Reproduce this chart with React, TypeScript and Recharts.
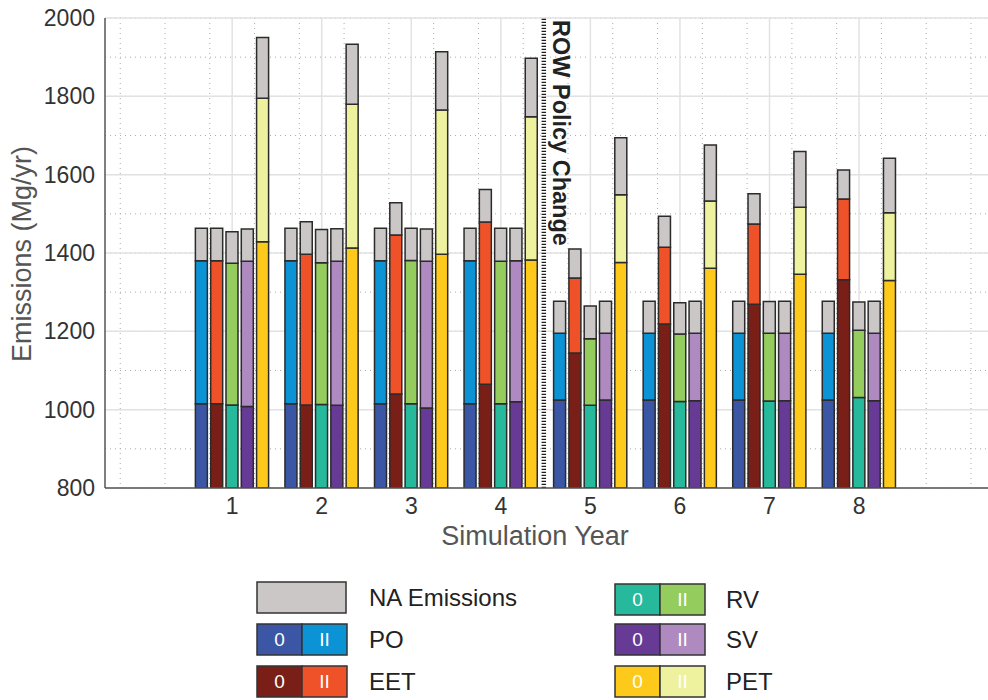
import React from 'react';
import { ComposedChart, Bar, XAxis, YAxis, CartesianGrid, ReferenceLine } from 'recharts';

const FONT = '"Liberation Sans", Arial, Helvetica, sans-serif';

const years = [1, 2, 3, 4, 5, 6, 7, 8];

// stack levels in Mg/yr: top of "0" part, top of "II" part, top incl. NA emissions
const poBase = [1015, 1015, 1015, 1015, 1025, 1025, 1025, 1025];
const poII = [1380, 1380, 1380, 1380, 1195, 1195, 1195, 1195];
const poTotal = [1463, 1463, 1463, 1463, 1277, 1277, 1277, 1277];

const eetBase = [1015, 1012, 1040, 1065, 1145, 1219, 1269, 1332];
const eetII = [1380, 1397, 1446, 1479, 1336, 1415, 1474, 1538];
const eetTotal = [1463, 1480, 1528, 1562, 1410, 1494, 1551, 1612];

const rvBase = [1012, 1013, 1015, 1015, 1011, 1021, 1022, 1031];
const rvII = [1374, 1375, 1381, 1379, 1181, 1193, 1195, 1203];
const rvTotal = [1454, 1460, 1463, 1463, 1265, 1273, 1276, 1275];

const svBase = [1008, 1011, 1004, 1020, 1025, 1023, 1023, 1023];
const svII = [1379, 1379, 1379, 1380, 1195, 1195, 1195, 1195];
const svTotal = [1461, 1462, 1461, 1463, 1277, 1277, 1277, 1277];

const petBase = [1429, 1413, 1397, 1382, 1376, 1361, 1346, 1330];
const petII = [1795, 1780, 1765, 1748, 1549, 1533, 1517, 1503];
const petTotal = [1950, 1933, 1914, 1897, 1694, 1676, 1659, 1642];

const yTicks = [800, 1000, 1200, 1400, 1600, 1800, 2000];
const policyYear = 4.48;

const NA_COLOR = '#cbc7c7';

const scenarios = [
  { key: 'PO', base: poBase, ii: poII, total: poTotal, dark: '#3a56a5', light: '#0b93d5' },
  { key: 'EET', base: eetBase, ii: eetII, total: eetTotal, dark: '#7a1f17', light: '#ef5228' },
  { key: 'RV', base: rvBase, ii: rvII, total: rvTotal, dark: '#27b99b', light: '#95cc5e' },
  { key: 'SV', base: svBase, ii: svII, total: svTotal, dark: '#673a96', light: '#ae8ac0' },
  { key: 'PET', base: petBase, ii: petII, total: petTotal, dark: '#fdca1b', light: '#eef19d' },
];

const data = years.map((year, i) => {
  const row: any = { year };
  scenarios.forEach((s) => {
    row[`${s.key}_0`] = s.base[i];
    row[`${s.key}_II`] = s.ii[i] - s.base[i];
    row[`${s.key}_NA`] = s.total[i] - s.ii[i];
  });
  return row;
});

// grid positions
const minorY: number[] = [];
for (let v = 800; v <= 2000; v += 50) minorY.push(v);
const minorX: number[] = [];
for (let v = -0.25; v <= 9.3; v += 0.25) minorX.push(v);

const YTitle = () => (
  <text
    x={31}
    y={254}
    transform="rotate(-90 31 254)"
    textAnchor="middle"
    style={{ fontSize: 27, fill: '#555', fontFamily: FONT }}
  >
    Emissions (Mg/yr)
  </text>
);

const XTitle = () => (
  <text x={535} y={545} textAnchor="middle" style={{ fontSize: 27, fill: '#555', fontFamily: FONT }}>
    Simulation Year
  </text>
);

const PolicyLabel = (props: any) => {
  const x = (props.viewBox?.x ?? 544) + 9;
  const y = 20;
  return (
    <text
      x={x}
      y={y}
      transform={`rotate(90 ${x} ${y})`}
      textAnchor="start"
      style={{ fontSize: 23.5, fontWeight: 'bold', fill: '#222', fontFamily: FONT }}
    >
      ROW Policy Change
    </text>
  );
};

const legendLeft = [
  { label: 'PO', dark: '#3a56a5', light: '#0b93d5', y: 624 },
  { label: 'EET', dark: '#7a1f17', light: '#ef5228', y: 666 },
];
const legendRight = [
  { label: 'RV', dark: '#27b99b', light: '#95cc5e', y: 584 },
  { label: 'SV', dark: '#673a96', light: '#ae8ac0', y: 624 },
  { label: 'PET', dark: '#fdca1b', light: '#eef19d', y: 666 },
];

const SplitBox = ({ x, y, dark, light, label, textX }: any) => (
  <g>
    <rect x={x} y={y} width={45} height={31} fill={dark} stroke="#333" strokeWidth={1.5} />
    <rect x={x + 45} y={y} width={45} height={31} fill={light} stroke="#333" strokeWidth={1.5} />
    <text x={x + 22.5} y={y + 22} textAnchor="middle" style={{ fontSize: 19, fill: '#fff', fontFamily: FONT }}>0</text>
    <text x={x + 67.5} y={y + 22} textAnchor="middle" style={{ fontSize: 19, fill: '#fff', fontFamily: FONT }}>II</text>
    <text x={textX} y={y + 24} style={{ fontSize: 24, fill: '#222', fontFamily: FONT }}>{label}</text>
  </g>
);

const LegendBlock = () => (
  <svg width={988} height={700} style={{ position: 'absolute', left: 0, top: 0, pointerEvents: 'none' }}>
    <rect x={257} y={582} width={89} height={31} fill={NA_COLOR} stroke="#333" strokeWidth={1.5} />
    <text x={369} y={606} style={{ fontSize: 24, fill: '#222', fontFamily: FONT }}>NA Emissions</text>
    {legendLeft.map((r) => (
      <SplitBox key={r.label} x={257} y={r.y} dark={r.dark} light={r.light} label={r.label} textX={369} />
    ))}
    {legendRight.map((r) => (
      <SplitBox key={r.label} x={615} y={r.y} dark={r.dark} light={r.light} label={r.label} textX={726} />
    ))}
  </svg>
);

export default function App() {
  return (
    <div style={{ position: 'absolute', left: 0, top: 0, width: 988, height: 700, background: '#fff' }}>
      <ComposedChart
        width={988}
        height={700}
        data={data}
        barSize={12}
        barGap={3.3}
        margin={{ top: 18, right: 0, bottom: 172, left: 0 }}
      >
        <CartesianGrid
          horizontalValues={minorY}
          verticalValues={minorX}
          stroke="#ababab"
          strokeDasharray="1 4"
          strokeWidth={1}
        />
        <CartesianGrid
          horizontalValues={yTicks}
          verticalValues={years}
          stroke="#e2e2e2"
          strokeWidth={1.5}
        />
        <XAxis
          type="number"
          dataKey="year"
          domain={[-0.42, 9.44]}
          ticks={years}
          allowDataOverflow
          height={40}
          tickSize={0}
          tickMargin={10}
          stroke="#555"
          strokeWidth={1.5}
          tick={{ fontSize: 23, fill: '#333', fontFamily: FONT }}
          label={<XTitle />}
        />
        <YAxis
          type="number"
          domain={[800, 2000]}
          ticks={yTicks}
          allowDataOverflow
          width={105}
          tickSize={0}
          tickMargin={10}
          stroke="#555"
          strokeWidth={1.5}
          tick={{ fontSize: 23, fill: '#333', fontFamily: FONT }}
          label={<YTitle />}
        />
        {scenarios.flatMap((s) => [
          <Bar key={`${s.key}_0`} dataKey={`${s.key}_0`} stackId={s.key} fill={s.dark} stroke="#2b2b2b" strokeWidth={1.5} isAnimationActive={false} />,
          <Bar key={`${s.key}_II`} dataKey={`${s.key}_II`} stackId={s.key} fill={s.light} stroke="#2b2b2b" strokeWidth={1.5} isAnimationActive={false} />,
          <Bar key={`${s.key}_NA`} dataKey={`${s.key}_NA`} stackId={s.key} fill={NA_COLOR} stroke="#2b2b2b" strokeWidth={1.5} isAnimationActive={false} />,
        ])}
        <ReferenceLine
          x={policyYear}
          stroke="#1e1e1e"
          strokeWidth={4.5}
          strokeDasharray="1.3 1.7"
          label={<PolicyLabel />}
        />
      </ComposedChart>
      <LegendBlock />
    </div>
  );
}
